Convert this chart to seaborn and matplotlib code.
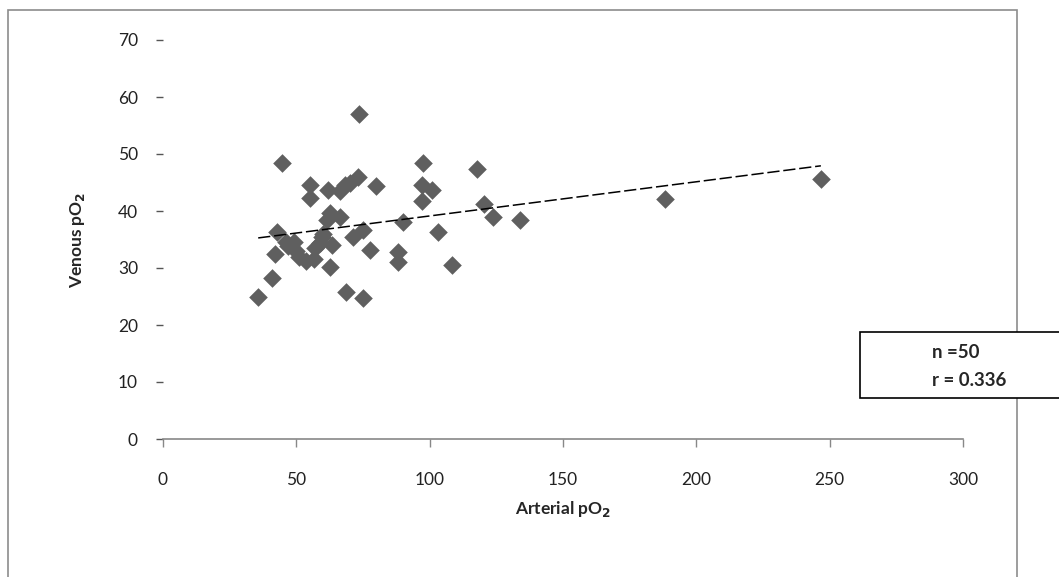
import numpy as np
import pandas as pd
import matplotlib.pyplot as plt
import seaborn as sns
from matplotlib.patches import Rectangle

# Arterial vs venous pO2
arterial_po2 = [35.7, 41.0, 42.0, 42.6, 44.8, 46.0, 47.0, 49.0, 50.0, 51.0,
                53.5, 55.1, 55.1, 56.5, 57.0, 58.9, 59.5, 60.0, 61.5, 62.6,
                62.0, 62.6, 63.5, 66.5, 66.4, 68.3, 68.8, 70.1, 71.4, 73.3,
                73.6, 75.1, 75.1, 77.6, 79.9, 88.3, 88.3, 89.9, 97.6, 97.0,
                97.0, 100.8, 103.0, 108.5, 117.6, 120.2, 123.7, 133.7, 188.3, 246.7]
venous_po2 = [25.0, 28.2, 32.5, 36.4, 48.5, 34.5, 33.8, 34.5, 33.0, 32.0,
              31.2, 44.6, 42.3, 31.5, 33.5, 34.4, 35.5, 36.0, 38.5, 39.6,
              43.7, 30.2, 34.0, 39.0, 43.5, 44.5, 25.8, 45.0, 35.5, 45.9,
              57.1, 36.7, 24.7, 33.2, 44.3, 32.8, 31.0, 38.0, 48.4, 44.6,
              41.8, 43.6, 36.4, 30.6, 47.3, 41.3, 38.9, 38.5, 42.1, 45.7]
stats_lines = ["n =50", "r = 0.336"]
x_ticks = [0, 50, 100, 150, 200, 250, 300]
y_ticks = [0, 10, 20, 30, 40, 50, 60, 70]

df = pd.DataFrame({"Arterial": arterial_po2, "Venous": venous_po2})

sns.set_style("white")
plt.rcParams['font.family'] = ['Lato', 'DejaVu Sans']
plt.rcParams['mathtext.default'] = 'bf'

fig = plt.figure(figsize=(10.59, 5.77), dpi=100)
ax = fig.add_axes([163 / 1059, 1 - 439 / 577, (963 - 163) / 1059, (439 - 40) / 577])

sns.scatterplot(data=df, x="Arterial", y="Venous", marker="D", s=90,
                color="#5f5f5f", linewidth=0, ax=ax, zorder=3)

# linear trendline
sns.regplot(data=df, x="Arterial", y="Venous", scatter=False, ci=None, ax=ax,
            line_kws={"color": "black", "lw": 1.1, "ls": (0, (8, 2.5)), "zorder": 4})

ax.set_xlim(0, 300)
ax.set_ylim(0, 70)
ax.set_xticks(x_ticks)
ax.set_yticks(y_ticks)
ax.tick_params(axis="x", direction="out", length=6, width=1, color="#888888",
               pad=18, labelsize=12.5, labelcolor="#222222")
ax.tick_params(axis="y", direction="out", length=5, width=1, color="#555555",
               pad=13, labelsize=12.5, labelcolor="#222222")
ax.tick_params(bottom=True, left=True)

for side in ["top", "right", "left"]:
    ax.spines[side].set_visible(False)
ax.spines["bottom"].set_color("#888888")
ax.spines["bottom"].set_linewidth(1.2)
ax.grid(False)

ax.set_xlabel(r"Arterial pO$_2$", fontsize=12.5, fontweight="bold", labelpad=8)
ax.set_ylabel(r"Venous pO$_2$", fontsize=12.5, fontweight="bold", labelpad=22)

# chart area frame
fig.patches.append(Rectangle((8 / 1059, -0.05), (1017 - 8) / 1059, 1.05 - 10 / 577,
                             transform=fig.transFigure, fill=False,
                             edgecolor="#8c8c8c", lw=1.2))

# stats box
fig.patches.append(Rectangle((860 / 1059, 1 - 398 / 577), (1060 - 860) / 1059, (398 - 332) / 577,
                             transform=fig.transFigure, facecolor="white",
                             edgecolor="black", lw=1.2, zorder=5))
fig.text(932 / 1059, 1 - 353 / 577, stats_lines[0], fontsize=13.5, fontweight="bold",
         va="center", ha="left", zorder=6)
fig.text(932 / 1059, 1 - 380 / 577, stats_lines[1], fontsize=13.5, fontweight="bold",
         va="center", ha="left", zorder=6)

fig.savefig("out.png", dpi=100)
plt.close(fig)
